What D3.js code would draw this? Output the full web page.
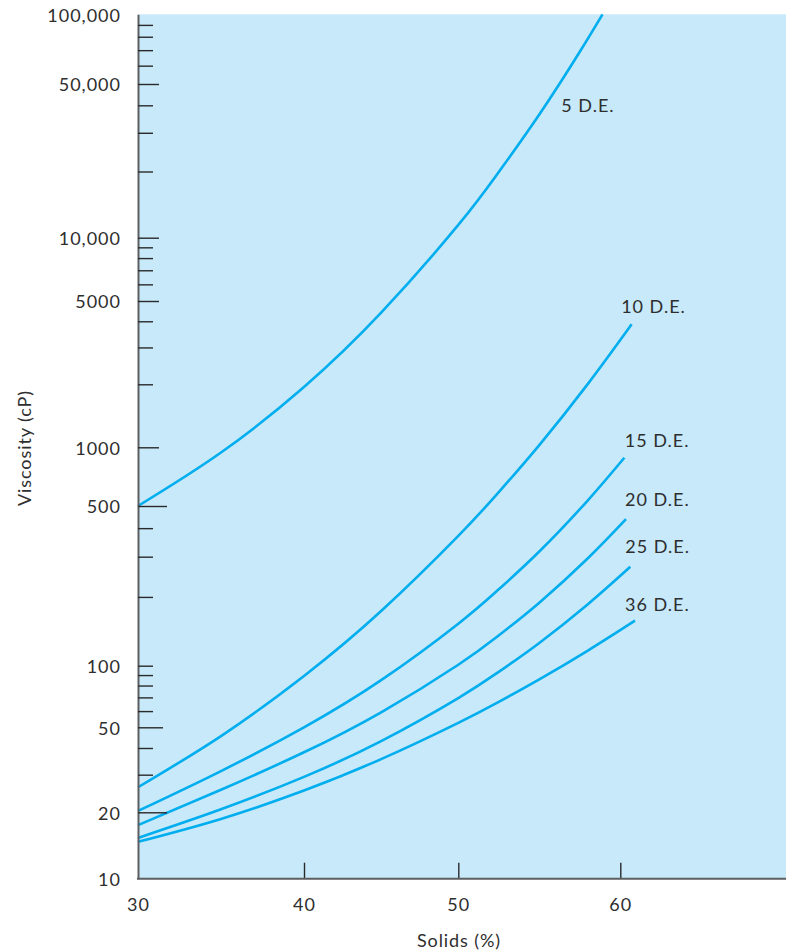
<!DOCTYPE html>
<html>
<head>
<meta charset="utf-8">
<script src="https://cdn.jsdelivr.net/npm/d3@7"></script>
<style>
  body { margin: 0; background: #ffffff; }
  svg { display: block; }
  text { font-family: Lato, "Open Sans", "DejaVu Sans", sans-serif; }
</style>
</head>
<body>
<svg id="chart" width="786" height="951"></svg>
<script>
// ---------------- DATA ----------------
const seriesNames = ["5 D.E.", "10 D.E.", "15 D.E.", "20 D.E.", "25 D.E.", "36 D.E."];

const solids5  = [30, 35, 40, 45, 50, 52.5, 55, 57.5, 58.9];
const visc5    = [500, 940, 1942, 4400, 11430, 19900, 36340, 68940, 100000];

const solids10 = [30, 35, 40, 45, 50, 52.5, 55, 58, 60.7];
const visc10   = [26.2, 45.5, 89.1, 173.5, 370, 589, 1025, 2009, 3870];

const solids15 = [30, 35, 40, 45, 50, 52.5, 55, 58, 60.25];
const visc15   = [20.3, 31.2, 50, 85, 152.7, 216, 316, 535, 884];

const solids20 = [30, 35, 40, 45, 50, 52.5, 55, 58, 60.35];
const visc20   = [17.5, 25.5, 38.2, 59.2, 101, 135.7, 188.8, 295.4, 438];

const solids25 = [30, 35, 40, 45, 50, 52.5, 55, 58, 60.62];
const visc25   = [15.3, 20.65, 29.3, 43.1, 69.5, 93.3, 125.8, 185.8, 271];

const solids36 = [30, 35, 40, 45, 50, 52.5, 55, 58, 60.91];
const visc36   = [14.7, 18.67, 25.3, 35.5, 52.6, 66.6, 85.8, 116.5, 157.5];

const xTickValues = [30, 40, 50, 60];
const xTickLabels = ["30", "40", "50", "60"];

const yLabelValues = [10, 20, 50, 100, 500, 1000, 5000, 10000, 50000, 100000];
const yTickLabels  = ["10", "20", "50", "100", "500", "1000", "5000", "10,000", "50,000", "100,000"];
const yMinorValues = [30, 40, 60, 70, 80, 90, 200, 300, 400, 2000, 3000, 4000,
                      6000, 7000, 8000, 9000, 20000, 30000, 40000, 60000, 70000, 80000, 90000];

const xTitle = "Solids (%)";
const yTitle = "Viscosity (cP)";

// ---------------- LAYOUT ----------------
(function () {
const W = 786;
const svg = d3.select("#chart");

// piecewise scales following the hand-drawn axes of the original
const x = d3.scaleLinear().domain([30, 40, 50, 60]).range([138, 304, 458.3, 620.3]);
const y = d3.scaleLog()
  .domain([10, 20, 50, 100, 500, 1000, 5000, 10000, 50000, 100000])
  .range([878.7, 812.3, 727.3, 665.7, 506, 447.3, 301, 237.7, 84, 14.3]);

const plotLeft = x(30), plotBottom = y(10), plotTop = y(100000);

const textColor = "#2e2e2e";
const axisColor = "#5d5e60";
const curveColor = "#00aeef";
const fontSize = 18;

// background panel
svg.append("rect")
  .attr("x", plotLeft).attr("y", plotTop)
  .attr("width", W - plotLeft).attr("height", plotBottom - plotTop)
  .attr("fill", "#c7e9f9");

// curves
const series = [
  [solids5, visc5], [solids10, visc10], [solids15, visc15],
  [solids20, visc20], [solids25, visc25], [solids36, visc36]
];
const line = d3.line()
  .x(d => x(d[0])).y(d => y(d[1]))
  .curve(d3.curveNatural);

series.forEach(([xs, vs]) => {
  const pts = xs.map((s, i) => [s, vs[i]]);
  svg.append("path")
    .attr("d", line(pts))
    .attr("fill", "none")
    .attr("stroke", curveColor)
    .attr("stroke-width", 2.6)
    .attr("stroke-linecap", "butt");
});

// curve labels (anchor index into series, pixel offsets)
const labelLayout = [
  { idx: 6, dx: 22, dy: -2 },
  { idx: -1, dx: -10.5, dy: -11.5 },
  { idx: -1, dx: 0.5, dy: -11 },
  { idx: -1, dx: -1, dy: -13 },
  { idx: -1, dx: -5, dy: -14 },
  { idx: -1, dx: -10, dy: -10 }
];
series.forEach(([xs, vs], k) => {
  const L = labelLayout[k];
  const i = L.idx < 0 ? xs.length - 1 : L.idx;
  svg.append("text")
    .attr("x", x(xs[i]) + L.dx)
    .attr("y", y(vs[i]) + L.dy)
    .attr("font-size", fontSize)
    .attr("letter-spacing", 1)
    .attr("fill", textColor)
    .text(seriesNames[k]);
});

// y axis
const labelMap = new Map(yLabelValues.map((v, i) => [v, yTickLabels[i]]));
const tickLen = v => {
  if (v === 10 || v === 100000) return 0;
  if (v === 20 || v === 500) return 29;
  if (v === 50) return 25;
  if (v === 1000 || v === 5000 || v === 10000 || v === 50000) return 21;
  return 15;
};
const gy = svg.append("g")
  .attr("transform", `translate(${plotLeft},0)`)
  .call(d3.axisLeft(y)
    .tickValues(yLabelValues.concat(yMinorValues))
    .tickSizeInner(0).tickSizeOuter(0).tickPadding(17)
    .tickFormat(d => labelMap.get(d) || ""));
gy.select(".domain").attr("stroke", axisColor).attr("stroke-width", 2);
gy.selectAll(".tick line")
  .attr("x2", d => tickLen(d))
  .attr("stroke", "#2a2a2a").attr("stroke-width", 1.4);
gy.selectAll(".tick text")
  .attr("font-size", fontSize)
  .attr("font-family", "Lato, 'Open Sans', sans-serif")
  .attr("letter-spacing", 1)
  .attr("fill", textColor)
  .attr("dy", "0.38em");

// x axis
const gx = svg.append("g")
  .attr("transform", `translate(0,${plotBottom})`)
  .call(d3.axisBottom(x)
    .tickValues(xTickValues)
    .tickSizeInner(-16).tickSizeOuter(0).tickPadding(20)
    .tickFormat((d, i) => xTickLabels[i]));
gx.select(".domain").remove();
gx.selectAll(".tick line")
  .attr("stroke", "#2a2a2a").attr("stroke-width", 1.4)
  .attr("display", d => d === 30 ? "none" : null);
gx.selectAll(".tick text")
  .attr("font-size", fontSize)
  .attr("font-family", "Lato, 'Open Sans', sans-serif")
  .attr("letter-spacing", 1)
  .attr("fill", textColor);
svg.append("line")
  .attr("x1", plotLeft - 1).attr("x2", W)
  .attr("y1", plotBottom).attr("y2", plotBottom)
  .attr("stroke", axisColor).attr("stroke-width", 2);

// axis titles
svg.append("text")
  .attr("x", 459)
  .attr("y", 947)
  .attr("text-anchor", "middle")
  .attr("font-size", 18)
  .attr("letter-spacing", 0.9)
  .attr("fill", textColor)
  .text(xTitle);

svg.append("text")
  .attr("transform", `translate(31,448) rotate(-90)`)
  .attr("text-anchor", "middle")
  .attr("font-size", 18)
  .attr("letter-spacing", 0.9)
  .attr("fill", textColor)
  .text(yTitle);
})();
</script>
</body>
</html>
